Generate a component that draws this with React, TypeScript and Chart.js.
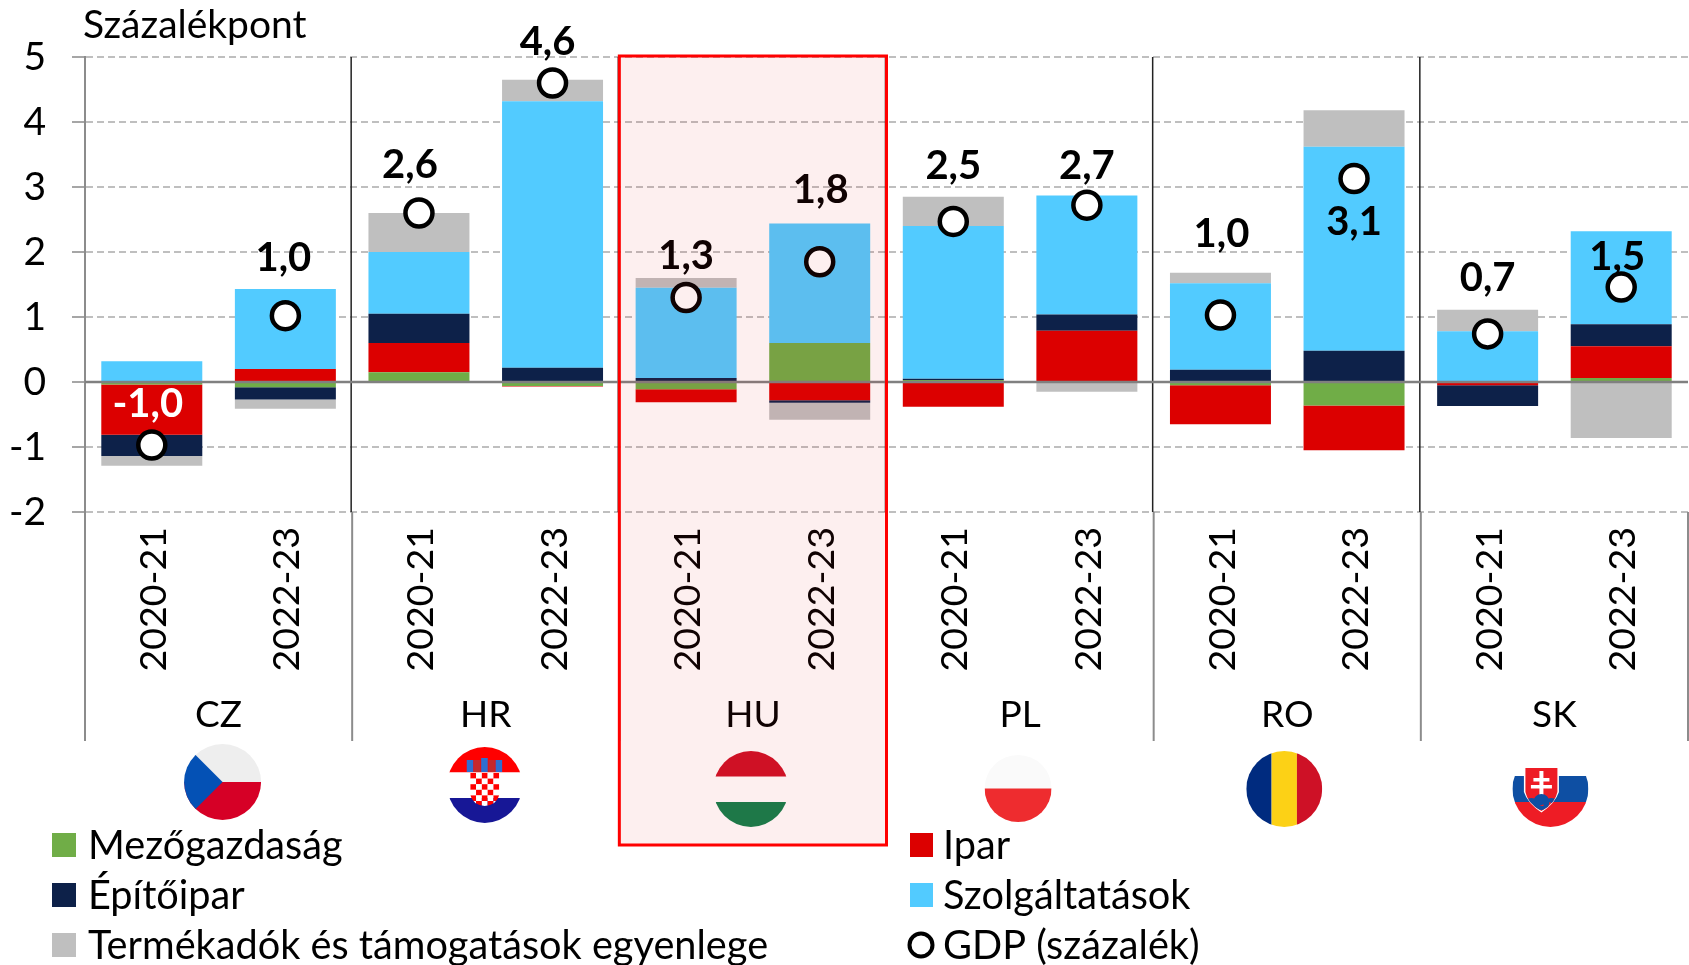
import React, { useEffect, useRef } from "react";
import { Chart, registerables } from "chart.js";

Chart.register(...registerables);

const FONT = "Lato, 'Open Sans', sans-serif";

const periods = ["2020-21", "2022-23", "2020-21", "2022-23", "2020-21", "2022-23", "2020-21", "2022-23", "2020-21", "2022-23", "2020-21", "2022-23"];
const countries = ["CZ", "HR", "HU", "PL", "RO", "SK"];
const yTicks = [-2, -1, 0, 1, 2, 3, 4, 5];

const agriculture = [-0.04, -0.08, 0.15, -0.06, -0.11, 0.6, 0.03, 0, -0.05, -0.36, 0, 0.06];
const industry = [-0.77, 0.2, 0.45, -0.01, -0.2, -0.28, -0.38, 0.79, -0.6, -0.69, -0.05, 0.49];
const construction = [-0.33, -0.19, 0.45, 0.22, 0.06, -0.04, 0.02, 0.25, 0.19, 0.48, -0.32, 0.34];
const services = [0.32, 1.23, 0.95, 4.1, 1.39, 1.84, 2.35, 1.83, 1.33, 3.14, 0.78, 1.43];
const taxes = [-0.15, -0.14, 0.6, 0.33, 0.15, -0.26, 0.45, -0.15, 0.16, 0.56, 0.33, -0.86];
const gdp = [-0.97, 1.02, 2.6, 4.6, 1.3, 1.85, 2.47, 2.72, 1.03, 3.13, 0.74, 1.46];
const gdpLabels = ["-1,0", "1,0", "2,6", "4,6", "1,3", "1,8", "2,5", "2,7", "1,0", "3,1", "0,7", "1,5"];

// Label placement relative to its point (style, not data)
const labelDx = [-4, -2, -9, -5, 0, 1, 0, 0, 1, 0, 0, -4];
const labelDy = [-41, -58, -48, -41, -41, -72, -55, -39, -81, 44, -56, -30];

const COLORS = {
  agri: "#70AD47",
  ind: "#DC0000",
  con: "#0D2149",
  serv: "#52CBFF",
  tax: "#BFBFBF",
};

type Ctx = CanvasRenderingContext2D;

function band(ctx: Ctx, color: string, x: number, y: number, w: number, h: number) {
  ctx.fillStyle = color;
  ctx.fillRect(x, y, w, h);
}

function withEllipse(ctx: Ctx, cx: number, cy: number, rx: number, ry: number, draw: (l: number, t: number, w: number, h: number) => void) {
  ctx.save();
  ctx.beginPath();
  ctx.ellipse(cx, cy, rx, ry, 0, 0, Math.PI * 2);
  ctx.clip();
  draw(cx - rx, cy - ry, rx * 2, ry * 2);
  ctx.restore();
}

function flagCZ(ctx: Ctx, cx: number) {
  const cy = 782;
  withEllipse(ctx, cx, cy, 38.5, 38, (l, t, w, h) => {
    band(ctx, "#EEEEEE", l, t, w, h / 2);
    band(ctx, "#D60026", l, cy, w, h / 2);
    ctx.fillStyle = "#0451B5";
    ctx.beginPath();
    ctx.moveTo(cx - 42, cy - 42);
    ctx.lineTo(cx, cy);
    ctx.lineTo(cx - 42, cy + 42);
    ctx.closePath();
    ctx.fill();
  });
}

function flagHR(ctx: Ctx, cx: number) {
  const cy = 785;
  withEllipse(ctx, cx, cy, 37.5, 38, (l, t, w, h) => {
    band(ctx, "#FF0000", l, t, w, 25.5);
    band(ctx, "#FFFFFF", l, t + 25.5, w, 25.5);
    band(ctx, "#171796", l, t + 51, w, 25);
  });
  // Crown
  const crown = ["#2E6FD0", "#C6282B", "#2E6FD0", "#C6282B", "#2E6FD0"];
  crown.forEach((c, i) => band(ctx, c, cx - 18 + i * 7.2, 760 - (i === 2 ? 2 : 0), 6.6, 12 + (i === 2 ? 2 : 0)));
  // Checkered shield
  const size = 29 / 5;
  const rows = 6;
  ctx.save();
  ctx.beginPath();
  ctx.moveTo(cx - 14.5, 773);
  ctx.lineTo(cx + 14.5, 773);
  ctx.lineTo(cx + 14.5, 795);
  ctx.quadraticCurveTo(cx + 12, 805, cx, 806);
  ctx.quadraticCurveTo(cx - 12, 805, cx - 14.5, 795);
  ctx.closePath();
  ctx.clip();
  for (let r = 0; r < rows; r++) {
    for (let c = 0; c < 5; c++) {
      band(ctx, (r + c) % 2 === 0 ? "#FF0000" : "#FFFFFF", cx - 14.5 + c * size, 773 + r * 5.6, size, 5.6);
    }
  }
  ctx.restore();
}

function flagHU(ctx: Ctx, cx: number) {
  withEllipse(ctx, cx, 789, 37.5, 38, (l, t, w) => {
    band(ctx, "#CE1126", l, t, w, 25.5);
    band(ctx, "#107F4C", l, t + 51, w, 25.5);
  });
}

function flagPL(ctx: Ctx, cx: number) {
  withEllipse(ctx, cx, 788.5, 33.5, 33.5, (l, t, w, h) => {
    band(ctx, "#FAFAFA", l, t, w, h / 2);
    band(ctx, "#EE2C2F", l, t + h / 2, w, h / 2);
  });
}

function flagRO(ctx: Ctx, cx: number) {
  withEllipse(ctx, cx, 789, 38, 38, (l, t, w, h) => {
    band(ctx, "#002B7F", l, t, w / 3, h);
    band(ctx, "#FCD116", l + w / 3, t, w / 3, h);
    band(ctx, "#CE1126", l + (2 * w) / 3, t, w / 3, h);
  });
}

function flagSK(ctx: Ctx, cx: number) {
  withEllipse(ctx, cx, 789, 38, 38, (l, t, w) => {
    band(ctx, "#0E4FA3", l, t + 25, w, 26);
    band(ctx, "#EE1C25", l, t + 51, w, 26);
  });
  const sx = cx - 9;
  const shield = (grow: number) => {
    ctx.beginPath();
    ctx.moveTo(sx - 16 - grow, 768 - grow);
    ctx.lineTo(sx + 16 + grow, 768 - grow);
    ctx.lineTo(sx + 16 + grow, 792);
    ctx.quadraticCurveTo(sx + 14, 803, sx, 811 + grow);
    ctx.quadraticCurveTo(sx - 14, 803, sx - 16 - grow, 792);
    ctx.closePath();
  };
  ctx.fillStyle = "#FFFFFF";
  shield(1.5);
  ctx.fill();
  ctx.fillStyle = "#EE1C25";
  shield(0);
  ctx.fill();
  // Double cross
  band(ctx, "#FFFFFF", sx - 2, 771, 4, 26);
  band(ctx, "#FFFFFF", sx - 8, 778, 16, 3.5);
  band(ctx, "#FFFFFF", sx - 10.5, 785, 21, 3.5);
  // Hills
  ctx.save();
  shield(0);
  ctx.clip();
  ctx.fillStyle = "#0E4FA3";
  ctx.beginPath();
  ctx.arc(sx, 802, 8, 0, Math.PI * 2);
  ctx.arc(sx - 10, 806, 8, 0, Math.PI * 2);
  ctx.arc(sx + 10, 806, 8, 0, Math.PI * 2);
  ctx.fill();
  ctx.restore();
}

const flagDrawers = [flagCZ, flagHR, flagHU, flagPL, flagRO, flagSK];
const flagDx = [4, -1, -2, -2, -3, -4];

const decorations = {
  id: "decorations",
  beforeDatasetDraw(chart: any, args: any) {
    if (chart.data.datasets[args.index].type !== "line") return;
    const { ctx, scales } = chart;
    const { x, y } = scales;
    const half = (x.getPixelForValue(1) - x.getPixelForValue(0)) / 2;
    const top = y.getPixelForValue(5);
    const bottom = y.getPixelForValue(-2);
    const zero = y.getPixelForValue(0);
    ctx.save();
    // Group dividers
    for (let g = 0; g <= countries.length; g++) {
      const px = g === countries.length ? x.getPixelForValue(g * 2 - 1) + half : x.getPixelForValue(g * 2) - half;
      if (g > 0 && g < countries.length) {
        ctx.strokeStyle = "#222222";
        ctx.lineWidth = 1.5;
        ctx.beginPath();
        ctx.moveTo(px - 1, top);
        ctx.lineTo(px - 1, bottom);
        ctx.stroke();
      }
      ctx.strokeStyle = "#8C8C8C";
      ctx.lineWidth = 2;
      ctx.beginPath();
      ctx.moveTo(px, bottom);
      ctx.lineTo(px, 741);
      ctx.stroke();
    }
    // Zero line
    ctx.strokeStyle = "#808080";
    ctx.lineWidth = 2.5;
    ctx.beginPath();
    ctx.moveTo(x.left, zero);
    ctx.lineTo(x.right, zero);
    ctx.stroke();
    ctx.restore();
  },
  afterDatasetsDraw(chart: any) {
    const { ctx, scales } = chart;
    const { x, y } = scales;
    ctx.save();
    ctx.textBaseline = "middle";

    // Title
    ctx.textAlign = "left";
    ctx.fillStyle = "#000000";
    ctx.font = `39px ${FONT}`;
    ctx.fillText("Százalékpont", 83, 25);

    // GDP labels
    ctx.textAlign = "center";
    ctx.font = `bold 40px ${FONT}`;
    gdp.forEach((v, i) => {
      ctx.fillStyle = v < 0 ? "#FFFFFF" : "#000000";
      ctx.fillText(gdpLabels[i], x.getPixelForValue(i) + labelDx[i], y.getPixelForValue(v) + labelDy[i]);
    });

    // Country labels and flags
    ctx.font = `37px ${FONT}`;
    countries.forEach((c, g) => {
      const center = (x.getPixelForValue(g * 2) + x.getPixelForValue(g * 2 + 1)) / 2;
      ctx.textAlign = "center";
      ctx.fillStyle = "#000000";
      ctx.fillText(c, center, 715);
      flagDrawers[g](ctx, center + flagDx[g]);
    });

    // Legend built from the datasets
    const ds = chart.data.datasets;
    const slots: [number, number, number][] = [
      [0, 52, 846],
      [1, 910, 846],
      [2, 52, 896],
      [3, 910, 896],
      [4, 52, 946],
      [5, 910, 946],
    ];
    ctx.font = `39.7px ${FONT}`;
    ctx.textAlign = "left";
    slots.forEach(([i, lx, ly]) => {
      const d = ds[i];
      if (d.type === "line") {
        ctx.fillStyle = "#FFFFFF";
        ctx.strokeStyle = "#000000";
        ctx.lineWidth = 4;
        ctx.beginPath();
        ctx.arc(lx + 11, ly - 1, 11.5, 0, Math.PI * 2);
        ctx.fill();
        ctx.stroke();
      } else {
        const w = lx < 100 ? 24 : 23;
        ctx.fillStyle = d.backgroundColor;
        ctx.fillRect(lx, ly - 13, w, 24);
      }
      ctx.fillStyle = "#000000";
      ctx.fillText(d.label, lx < 100 ? 88 : 943, ly);
    });
    ctx.restore();
  },
  afterDraw(chart: any) {
    const { ctx, scales } = chart;
    const { x, y } = scales;
    const half = (x.getPixelForValue(1) - x.getPixelForValue(0)) / 2;
    const l = x.getPixelForValue(4) - half;
    const r = x.getPixelForValue(5) + half;
    const t = y.getPixelForValue(5) - 1;
    const b = 845;
    ctx.save();
    ctx.fillStyle = "rgba(230,30,30,0.07)";
    ctx.fillRect(l, t, r - l, b - t);
    ctx.strokeStyle = "#FF0000";
    ctx.lineWidth = 3;
    ctx.strokeRect(l, t, r - l, b - t);
    ctx.restore();
  },
};

export default function App() {
  const ref = useRef<HTMLCanvasElement>(null);
  useEffect(() => {
    document.body.style.margin = "0";
    const barBase = { type: "bar", stack: "sectors", barPercentage: 0.756, categoryPercentage: 1, order: 2 };
    const chart = new Chart(ref.current as HTMLCanvasElement, {
      type: "bar",
      data: {
        labels: periods,
        datasets: [
          { ...barBase, label: "Mezőgazdaság", data: agriculture, backgroundColor: COLORS.agri },
          { ...barBase, label: "Ipar", data: industry, backgroundColor: COLORS.ind },
          { ...barBase, label: "Építőipar", data: construction, backgroundColor: COLORS.con },
          { ...barBase, label: "Szolgáltatások", data: services, backgroundColor: COLORS.serv },
          { ...barBase, label: "Termékadók és támogatások egyenlege", data: taxes, backgroundColor: COLORS.tax },
          {
            type: "line",
            stack: "gdp",
            label: "GDP (százalék)",
            data: gdp,
            showLine: false,
            pointRadius: 13.5,
            pointHoverRadius: 13.5,
            pointBackgroundColor: "#FFFFFF",
            pointBorderColor: "#000000",
            pointBorderWidth: 4.5,
            order: 1,
          },
        ],
      } as any,
      options: {
        responsive: false,
        animation: false,
        layout: { autoPadding: false, padding: { top: 57, right: 1, left: 0, bottom: 0 } },
        plugins: { legend: { display: false }, tooltip: { enabled: false } },
        scales: {
          x: {
            stacked: true,
            grid: { display: false },
            border: { display: false },
            ticks: {
              autoSkip: false,
              minRotation: 90,
              maxRotation: 90,
              padding: 7,
              labelOffset: 2,
              color: "#000000",
              font: { family: FONT, size: 37.5 },
            },
            afterFit(scale: any) {
              scale.height = 453;
              scale.paddingLeft = 0;
              scale.paddingRight = 0;
            },
          },
          y: {
            stacked: true,
            min: yTicks[0],
            max: yTicks[yTicks.length - 1],
            afterBuildTicks(scale: any) {
              scale.ticks = yTicks.map((value) => ({ value }));
            },
            grid: { color: "#BFBFBF", lineWidth: 2, tickLength: 13, tickColor: "#A6A6A6", tickWidth: 2 },
            border: { color: "#8C8C8C", width: 2, dash: [7, 4] },
            ticks: {
              padding: 26,
              color: "#000000",
              font: { family: FONT, size: 39 },
              callback: (v: any) => String(v),
            },
            afterFit(scale: any) {
              scale.width = 85;
              scale.paddingTop = 0;
              scale.paddingBottom = 0;
            },
          },
        },
      } as any,
      plugins: [decorations],
    } as any);
    return () => chart.destroy();
  }, []);
  return <canvas ref={ref} width={1689} height={965} style={{ display: "block" }} />;
}
